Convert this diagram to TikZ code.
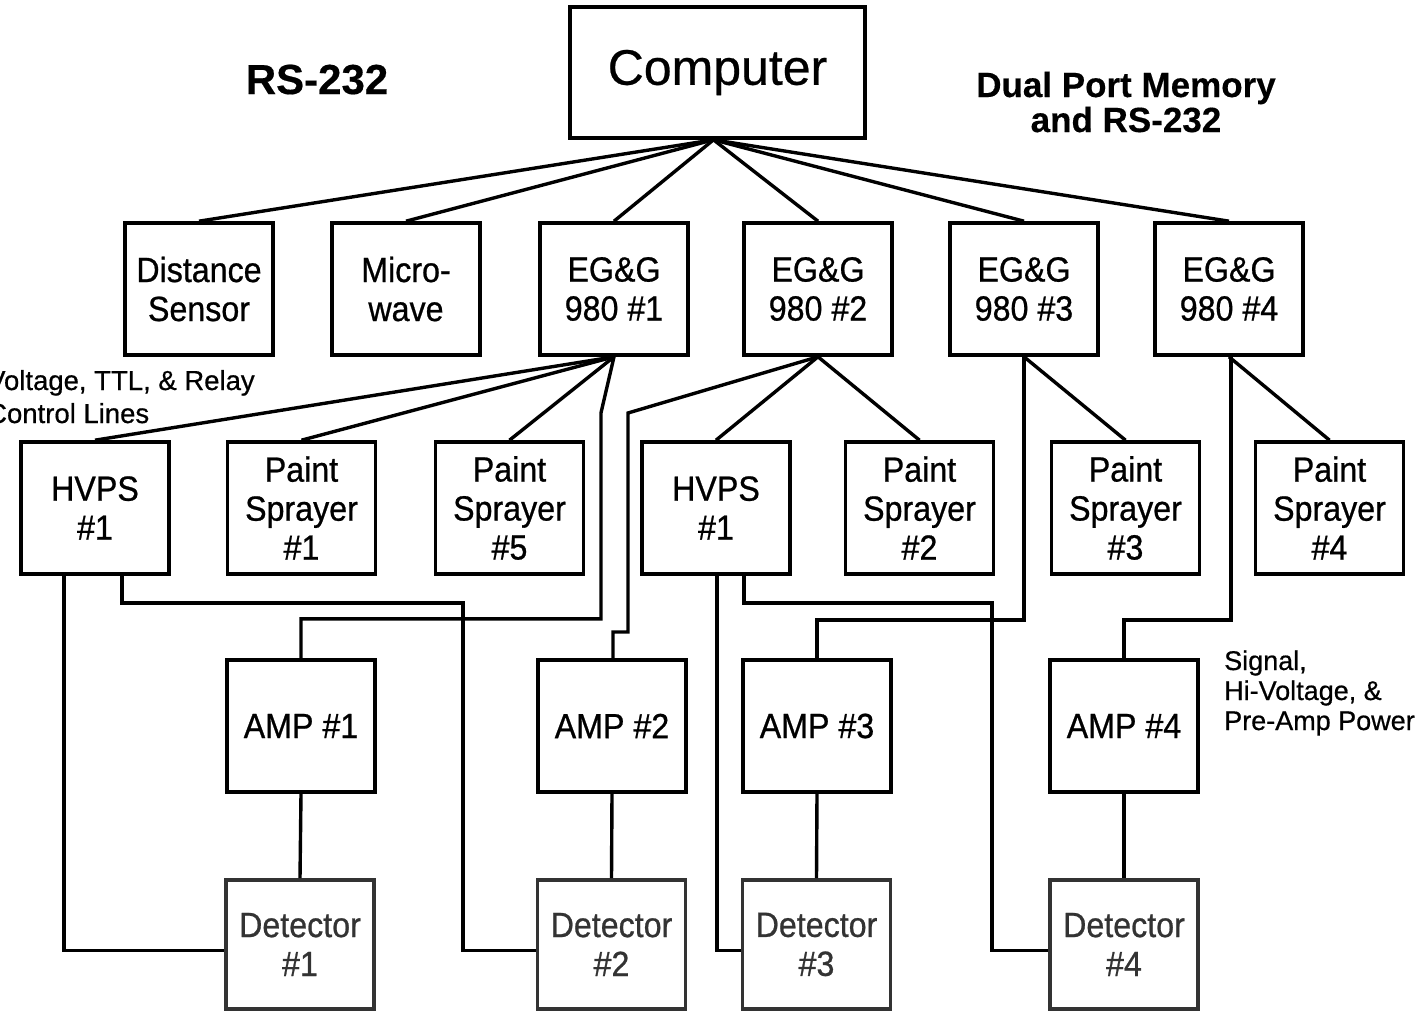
\documentclass[tikz,border=0pt]{standalone}
\usepackage{fontspec}
\setmainfont{Liberation Sans}
\newfontfamily\boxfont{Liberation Sans}[FakeStretch=0.92,FakeBold=0.7]
\newfontfamily\lblfont{Liberation Sans}[FakeBold=0.6]
\newfontfamily\bigfont{Liberation Sans}[FakeBold=0.5]
\newfontfamily\hdfont{Liberation Sans Bold}[FakeBold=0.4]
\begin{document}
\begin{tikzpicture}[x=1pt,y=-1pt,
  box/.style={draw=black, line width=3.6pt, minimum width=148pt, minimum height=132pt,
              inner sep=0pt, align=center, font=\boxfont\fontsize{35}{39}\selectfont},
  detbox/.style={box, draw=black!80, text=black!80, minimum height=129pt},
  wire/.style={line width=3.4pt, line join=miter, draw=black},
  lbl/.style={inner sep=0pt, anchor=base west, font=\lblfont\fontsize{27.5}{30}\selectfont},
  blbl/.style={inner sep=0pt, anchor=base, font=\hdfont\fontsize{35}{35}\selectfont}]
\useasboundingbox (0,0) rectangle (1419,1012);
\clip (0,0) rectangle (1419,1012);
\fill[white] (0,0) rectangle (1419,1012);

% top
\node[box, minimum width=295pt, minimum height=131pt, font=\bigfont\fontsize{50}{50}\selectfont] (comp) at (717.5,72.5) {Computer};
\node[blbl, font=\hdfont\fontsize{42}{42}\selectfont] (rs) at (317,94) {RS-232};
\node[blbl] (dpm1) at (1126,97) {Dual Port Memory};
\node[blbl] (dpm2) at (1126,132) {and RS-232};

% row 2
\node[box] (ds)  at (199,289)  {Distance\\Sensor};
\node[box] (mw)  at (406,289)  {Micro-\\wave};
\node[box] (eg1) at (614,289)  {EG\&G\\980 \#1};
\node[box] (eg2) at (818,289)  {EG\&G\\980 \#2};
\node[box] (eg3) at (1024,289) {EG\&G\\980 \#3};
\node[box] (eg4) at (1229,289) {EG\&G\\980 \#4};

% row 3
\node[box] (hv1) at (95,508)     {HVPS\\\#1};
\node[box] (ps1) at (301.5,508)  {Paint\\Sprayer\\\#1};
\node[box] (ps5) at (509.5,508)  {Paint\\Sprayer\\\#5};
\node[box] (hv2) at (716,508)    {HVPS\\\#1};
\node[box] (ps2) at (919.5,508)  {Paint\\Sprayer\\\#2};
\node[box] (ps3) at (1125.5,508) {Paint\\Sprayer\\\#3};
\node[box] (ps4) at (1329.5,508) {Paint\\Sprayer\\\#4};

% row 4
\node[box] (amp1) at (301,726)  {AMP \#1};
\node[box] (amp2) at (612,726)  {AMP \#2};
\node[box] (amp3) at (817,726)  {AMP \#3};
\node[box] (amp4) at (1124,726) {AMP \#4};

% row 5
\node[detbox] (det1) at (300,944.5)   {Detector\\\#1};
\node[detbox] (det2) at (611.5,944.5) {Detector\\\#2};
\node[detbox] (det3) at (816.5,944.5) {Detector\\\#3};
\node[detbox] (det4) at (1124,944.5)  {Detector\\\#4};

% side labels
\node[lbl] (vl1) at (-13,390) {Voltage, TTL, \& Relay};
\node[lbl] (vl2) at (-13,423) {Control Lines};
\node[lbl, font=\lblfont\fontsize{27}{30}\selectfont] (sg1) at (1224,670) {Signal,};
\node[lbl, font=\lblfont\fontsize{27}{30}\selectfont] (sg2) at (1224,700) {Hi-Voltage, \&};
\node[lbl, font=\lblfont\fontsize{27}{30}\selectfont] (sg3) at (1224,730) {Pre-Amp Power};

% computer fan
\coordinate (cj) at ([xshift=-4pt]comp.south);
\foreach \n in {ds,mw,eg1,eg2,eg3,eg4} \draw[wire] (cj) -- (\n.north);

% EG&G #1
\draw[wire] (eg1.south) -- (hv1.north);
\draw[wire] (eg1.south) -- (ps1.north);
\draw[wire] (eg1.south) -- (ps5.north);
\draw[wire] (eg1.south) -- ++(-13,56) -- ++(0,206) -| (amp1.north);
% EG&G #2
\draw[wire] (eg2.south) -- (hv2.north);
\draw[wire] (eg2.south) -- (ps2.north);
\draw[wire] (eg2.south) -- (628,413) -- (628,632) -| ([xshift=1pt]amp2.north);
% EG&G #3
\draw[wire] (eg3.south) -- (ps3.north);
\draw[wire] (eg3.south) -- ++(0,263) -| (amp3.north);
% EG&G #4
\draw[wire] (eg4.south) -- (ps4.north);
\draw[wire] ([xshift=2pt]eg4.south) -- ++(0,263) -| (amp4.north);

% HVPS lines
\draw[wire] ([xshift=-31pt]hv1.south) |- ([yshift=-6pt]det1.west);
\draw[wire] ([xshift=27pt]hv1.south) |- (463,603) |- ([yshift=-6pt]det2.west);
\draw[wire] ([xshift=1pt]hv2.south) |- ([yshift=-6pt]det3.west);
\draw[wire] ([xshift=28pt]hv2.south) |- (992,603) |- ([yshift=-6pt]det4.west);

% AMP to detector
\foreach \i in {1,...,4} \draw[wire] (amp\i.south) -- (det\i.north);
\end{tikzpicture}
\end{document}
